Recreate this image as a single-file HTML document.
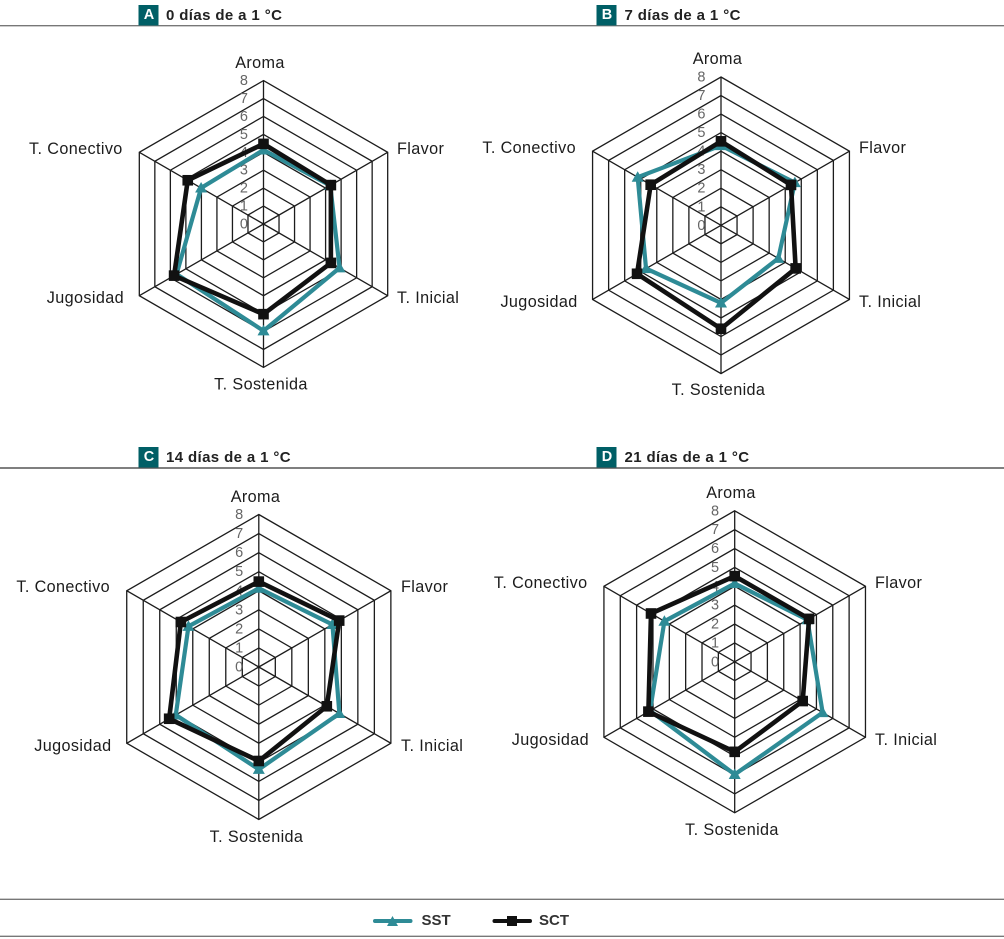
<!DOCTYPE html>
<html lang="es">
<head>
<meta charset="utf-8">
<title>Radar charts: SST y SCT</title>
<style>
html,body{margin:0;padding:0;background:#fff;width:1004px;height:939px;overflow:hidden}
svg{display:block}
text{font-family:"Liberation Sans",sans-serif}
.cat{font-size:16.2px;fill:#1c1c1c;letter-spacing:.38px;dominant-baseline:central}
.tick{font-size:14.5px;fill:#666;text-anchor:middle;dominant-baseline:central}
.head{font-size:15px;font-weight:bold;fill:#222;letter-spacing:.38px;dominant-baseline:central}
.badge{font-size:14.5px;font-weight:bold;fill:#fff;text-anchor:middle;dominant-baseline:central}
.leg{font-size:15px;fill:#333;font-weight:bold;dominant-baseline:central}
</style>
</head>
<body>
<svg id="chart" xmlns="http://www.w3.org/2000/svg" width="1004" height="939" viewBox="0 0 1004 939">
  <rect width="1004" height="939" fill="#fff"/>
  <line x1="0" y1="25.7" x2="1004" y2="25.7" stroke="#777" stroke-width="1.4"/>
  <line x1="0" y1="468" x2="1004" y2="468" stroke="#555" stroke-width="1.4"/>
  <line x1="0" y1="899.3" x2="1004" y2="899.3" stroke="#777" stroke-width="1.4"/>
  <line x1="0" y1="936.3" x2="1004" y2="936.3" stroke="#777" stroke-width="1.4"/>

  <g>
    <rect x="138.5" y="5" width="20" height="20.5" fill="#005f66"/>
    <text class="badge" x="149" y="15">A</text>
    <text class="head" x="166" y="15.5">0 días de a 1 °C</text>
  </g>
  <g>
    <rect x="596.5" y="5" width="20" height="20.5" fill="#005f66"/>
    <text class="badge" x="607" y="15">B</text>
    <text class="head" x="624.5" y="15.5">7 días de a 1 °C</text>
  </g>
  <g>
    <rect x="138.5" y="447" width="20" height="20.5" fill="#005f66"/>
    <text class="badge" x="149" y="457">C</text>
    <text class="head" x="166" y="457.5">14 días de a 1 °C</text>
  </g>
  <g>
    <rect x="596.5" y="447" width="20" height="20.5" fill="#005f66"/>
    <text class="badge" x="607" y="457">D</text>
    <text class="head" x="624.5" y="457.5">21 días de a 1 °C</text>
  </g>

  <g>
    <g>
      <line x1="375" y1="921" x2="410.5" y2="921" stroke="#2e8b96" stroke-width="4" stroke-linecap="round"/>
      <polygon points="392.5,916 398,926 387,926" fill="#2e8b96"/>
      <text class="leg" x="421.5" y="920.5">SST</text>
    </g>
    <g>
      <line x1="494.5" y1="921" x2="530" y2="921" stroke="#111" stroke-width="4" stroke-linecap="round"/>
      <rect x="507" y="916" width="10" height="10" fill="#111"/>
      <text class="leg" x="539" y="920.5">SCT</text>
    </g>
  </g>
</svg>
<script>
const categories = ["Aroma", "Flavor", "T. Inicial", "T. Sostenida", "Jugosidad", "T. Conectivo"];
const tickLabels = [0, 1, 2, 3, 4, 5, 6, 7, 8];
const sstA = [4.13, 4.30, 4.90, 5.96, 5.60, 4.02];
const sctA = [4.47, 4.34, 4.34, 5.03, 5.76, 4.88];
const sstB = [4.30, 4.60, 3.57, 4.19, 4.67, 5.19];
const sctB = [4.53, 4.36, 4.65, 5.58, 5.23, 4.38];
const sstC = [4.13, 4.46, 4.88, 5.37, 5.03, 4.26];
const sctC = [4.48, 4.87, 4.12, 4.93, 5.43, 4.72];
const sstD = [4.15, 4.45, 5.38, 5.97, 5.18, 4.30];
const sctD = [4.54, 4.55, 4.16, 4.77, 5.28, 5.12];

const SVGNS = "http://www.w3.org/2000/svg";
const root = document.getElementById("chart");
const maxValue = tickLabels[tickLabels.length - 1];

const panels = [
  {id: "a", sst: sstA, sct: sctA, cx: 263.5, cy: 224, r: 143.4,
   top: [260, 63], bottom: [261, 384.5], rightX: 397, leftX: [124, 122.7], upY: 149, lowY: 298},
  {id: "b", sst: sstB, sct: sctB, cx: 721, cy: 225.3, r: 148.3,
   top: [717.5, 59], bottom: [718.5, 390], rightX: 859, leftX: [577.7, 576], upY: 148, lowY: 302},
  {id: "c", sst: sstC, sct: sctC, cx: 258.8, cy: 667, r: 152.5,
   top: [255.5, 497], bottom: [256.5, 837], rightX: 401, leftX: [111.5, 110], upY: 587, lowY: 746},
  {id: "d", sst: sstD, sct: sctD, cx: 734.7, cy: 661.8, r: 151,
   top: [731, 493], bottom: [732, 830], rightX: 875, leftX: [589, 587.5], upY: 583, lowY: 740}
];

function make(tag, attrs, parent) {
  const el = document.createElementNS(SVGNS, tag);
  for (const k in attrs) el.setAttribute(k, attrs[k]);
  parent.appendChild(el);
  return el;
}
function radiusScale(p, v) { return v / maxValue * p.r; }
function axisPoint(p, i, v) {
  const a = i * Math.PI / 3;
  const d = radiusScale(p, v);
  return [p.cx + d * Math.sin(a), p.cy - d * Math.cos(a)];
}
function ptsString(list) {
  return list.map(function (q) { return q[0].toFixed(2) + "," + q[1].toFixed(2); }).join(" ");
}
function categoryPosition(p, i) {
  if (i === 0) return {x: p.top[0], y: p.top[1], anchor: "middle"};
  if (i === 1) return {x: p.rightX, y: p.upY, anchor: "start"};
  if (i === 2) return {x: p.rightX, y: p.lowY, anchor: "start"};
  if (i === 3) return {x: p.bottom[0], y: p.bottom[1], anchor: "middle"};
  if (i === 4) return {x: p.leftX[0], y: p.lowY, anchor: "end"};
  return {x: p.leftX[1], y: p.upY, anchor: "end"};
}

panels.forEach(function (p) {
  const g = make("g", {}, root);
  
  

  tickLabels.slice(1).forEach(function (t) {
    const ring = make("polygon", {
      points: ptsString(categories.map(function (c, i) { return axisPoint(p, i, t); })),
      fill: "none", stroke: "#1c1c1c", "stroke-width": 1.3
    }, g);
    
    
  });

  categories.forEach(function (c, i) {
    const end = axisPoint(p, i, maxValue);
    const spoke = make("line", {
      x1: p.cx, y1: p.cy, x2: end[0], y2: end[1], stroke: "#1c1c1c", "stroke-width": 1.3
    }, g);
    
    
  });

  tickLabels.forEach(function (t) {
    const lab = make("text", {x: p.cx - 19.6, y: p.cy - radiusScale(p, t) + 0.5, class: "tick"}, g);
    
    
    lab.textContent = t;
  });

  const sstPts = p.sst.map(function (v, i) { return axisPoint(p, i, v); });
  const sstLine = make("polygon", {
    points: ptsString(sstPts), fill: "none", stroke: "#2e8b96",
    "stroke-width": 4.2, "stroke-linejoin": "round"
  }, g);
  
  
  sstPts.forEach(function (q) {
    const m = make("polygon", {
      points: ptsString([[q[0], q[1] - 6], [q[0] + 6, q[1] + 4.5], [q[0] - 6, q[1] + 4.5]]),
      fill: "#2e8b96"
    }, g);
    
    
  });

  const sctPts = p.sct.map(function (v, i) { return axisPoint(p, i, v); });
  const sctLine = make("polygon", {
    points: ptsString(sctPts), fill: "none", stroke: "#111",
    "stroke-width": 4.6, "stroke-linejoin": "round"
  }, g);
  
  
  sctPts.forEach(function (q) {
    const m = make("rect", {x: q[0] - 5.3, y: q[1] - 5.3, width: 10.6, height: 10.6, fill: "#111"}, g);
    
    
  });

  categories.forEach(function (c, i) {
    const pos = categoryPosition(p, i);
    const lab = make("text", {x: pos.x, y: pos.y, "text-anchor": pos.anchor, class: "cat"}, g);
    
    
    lab.textContent = c;
  });
});
</script>
</body>
</html>
